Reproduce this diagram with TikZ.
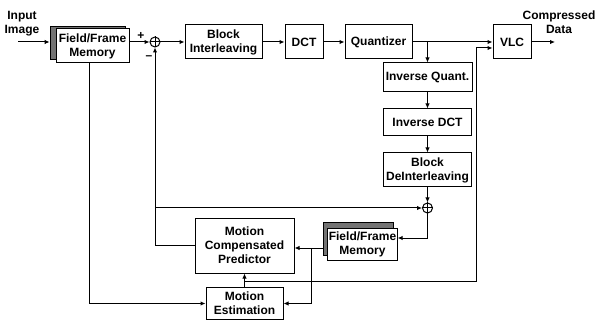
\documentclass[tikz,border=0pt]{standalone}
\usepackage{fontspec}
\setmainfont{Liberation Sans}
\usepackage{tikz}
\usetikzlibrary{arrows.meta, positioning, calc}
\tikzset{
  box/.style={rectangle, draw=black, fill=white, line width=1pt,
              inner sep=1pt, align=center,
              font=\fontsize{12}{14}\selectfont\bfseries},
  memB/.style={rectangle, draw=black, fill=black!55, line width=0.8pt},
  sumC/.style={circle, draw=black, fill=white, line width=1pt,
               minimum size=10pt, inner sep=0pt},
  conn/.style={draw=black, line width=1pt, -{Latex[length=5pt,width=4.5pt]}},
  wire/.style={draw=black, line width=1pt},
  lbl/.style={inner sep=0pt, align=center,
              font=\fontsize{12}{14}\selectfont\bfseries},
}
\begin{document}
\begin{tikzpicture}[x=1pt, y=-1pt]
    \useasboundingbox (0,0) rectangle (596,320);
    %% Forward path
    \node[lbl] (inimg) at (22,24) {Input\\Image};
    \coordinate (src) at (18,42);
    \node[memB, minimum width=75pt, minimum height=33pt] (ffm1b) at (87.5,42.5) {};
    \node[box, minimum width=73pt, minimum height=34pt] (ffm1) at (92.5,46) {Field/Frame\\Memory};
    \node[sumC] (add1) at (155,42) {};
    \node[box, minimum width=77pt, minimum height=34pt] (blk) at (223.5,42) {Block\\Interleaving};
    \node[box, minimum width=38pt, minimum height=34pt] (dct) at (304,42) {DCT};
    \node[box, minimum width=67pt, minimum height=34pt] (quant) at (378.5,42) {Quantizer};
    \node[box, minimum width=38pt, minimum height=34pt] (vlc) at (512,42) {VLC};
    \node[lbl] (outd) at (559,22) {Compressed\\Data};
    \coordinate (dst) at (555,42);
    %% Reconstruction path
    \node[box, minimum width=89pt, minimum height=29pt] (iq) at (427.5,77.5) {Inverse Quant.};
    \node[box, minimum width=88pt, minimum height=27pt] (idct) at (427.5,122.5) {Inverse DCT};
    \node[box, minimum width=88pt, minimum height=34pt] (bdi) at (427.5,170) {Block\\DeInterleaving};
    \node[sumC] (add2) at (427.5,208) {};
    \node[memB, minimum width=70pt, minimum height=33pt] (ffm2b) at (358,238.5) {};
    \node[box, minimum width=69pt, minimum height=32pt] (ffm2) at (362.5,244) {Field/Frame\\Memory};
    \node[box, minimum width=99pt, minimum height=55pt] (mcp) at (244.5,245.5) {Motion\\Compensated\\Predictor};
    \node[box, minimum width=77pt, minimum height=32pt] (me) at (244.5,303.5) {Motion\\Estimation};
    %% Plus signs in the adders
    \foreach \s in {add1,add2}{
      \draw[wire] (\s.north) -- (\s.south) (\s.west) -- (\s.east);
    }
    \node[lbl] (plus) at (141,36) {+};
    \node[lbl] (minus) at (149,58) {--};
    %% Forward connectors
    \draw[conn] (src) -- (ffm1b.west |- src);
    \draw[conn] (ffm1.east |- add1) -- (add1.west);
    \draw[conn] (add1.east) -- (blk.west);
    \draw[conn] (blk.east) -- (dct.west);
    \draw[conn] (dct.east) -- (quant.west);
    \draw[conn] (quant.east) -- (vlc.west);
    \draw[conn] (vlc.east) -- (dst);
    %% Local decoder
    \draw[conn] (quant.east -| iq.north) -- (iq.north);
    \draw[conn] (iq.south) -- (idct.north);
    \draw[conn] (idct.south) -- (bdi.north);
    \draw[conn] (bdi.south) -- (add2.north);
    \draw[conn] (add2.south) |- ([yshift=6pt]ffm2.east);
    \coordinate (fb) at (311,248);
    \draw[conn] (ffm2b.west |- fb) -- (fb -| mcp.east);
    \draw[conn] (fb) |- (me.east);
    %% Prediction feedback
    \draw[conn] (mcp.west) -| (add1.south);
    \draw[conn] (add1.south |- add2.west) -- (add2.west);
    %% Motion estimation
    \draw[conn] ([xshift=-3.5pt]ffm1.south) |- (me.west);
    \draw[conn] (me.north) -- (mcp.south);
    \coordinate (mvx) at (476,48);
    \draw[conn] ([yshift=6pt]me.north) -| (mvx) -- (mvx -| vlc.west);
  \end{tikzpicture}
\end{document}
